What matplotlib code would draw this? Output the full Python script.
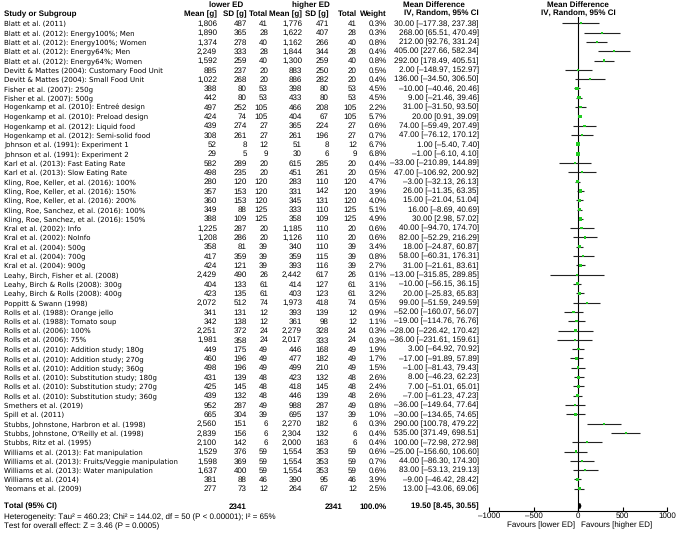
import matplotlib
matplotlib.use("Agg")
import matplotlib.pyplot as plt
import numpy as np

plt.rcParams['font.family'] = ['Liberation Sans', 'DejaVu Sans']
plt.rcParams['text.hinting'] = 'no_hinting'
plt.rcParams['text.hinting_factor'] = 1

studies = [
    "Blatt et al. (2011)",
    "Blatt et al. (2012): Energy100%; Men",
    "Blatt et al. (2012): Energy100%; Women",
    "Blatt et al. (2012): Energy64%; Men",
    "Blatt et al. (2012): Energy64%; Women",
    "Devitt & Mattes (2004): Customary Food Unit",
    "Devitt & Mattes (2004): Small Food Unit",
    "Fisher et al. (2007): 250g",
    "Fisher et al. (2007): 500g",
    "Hogenkamp et al. (2010): Entreé design",
    "Hogenkamp et al. (2010): Preload design",
    "Hogenkamp et al. (2012): Liquid food",
    "Hogenkamp et al. (2012): Semi-solid food",
    "Johnson et al. (1991): Experiment 1",
    "Johnson et al. (1991): Experiment 2",
    "Karl et al. (2013): Fast Eating Rate",
    "Karl et al. (2013): Slow Eating Rate",
    "Kling, Roe, Keller, et al. (2016): 100%",
    "Kling, Roe, Keller, et al. (2016): 150%",
    "Kling, Roe, Keller, et al. (2016): 200%",
    "Kling, Roe, Sanchez, et al. (2016): 100%",
    "Kling, Roe, Sanchez, et al. (2016): 150%",
    "Kral et al. (2002): Info",
    "Kral et al. (2002): NoInfo",
    "Kral et al. (2004): 500g",
    "Kral et al. (2004): 700g",
    "Kral et al. (2004): 900g",
    "Leahy, Birch, Fisher et al. (2008)",
    "Leahy, Birch & Rolls (2008): 300g",
    "Leahy, Birch & Rolls (2008): 400g",
    "Poppitt & Swann (1998)",
    "Rolls et al. (1988): Orange jello",
    "Rolls et al. (1988): Tomato soup",
    "Rolls et al. (2006): 100%",
    "Rolls et al. (2006): 75%",
    "Rolls et al. (2010): Addition study; 180g",
    "Rolls et al. (2010): Addition study; 270g",
    "Rolls et al. (2010): Addition study; 360g",
    "Rolls et al. (2010): Substitution study; 180g",
    "Rolls et al. (2010): Substitution study; 270g",
    "Rolls et al. (2010): Substitution study; 360g",
    "Smethers et al. (2019)",
    "Spill et al. (2011)",
    "Stubbs, Johnstone, Harbron et al. (1998)",
    "Stubbs, Johnstone, O'Reilly et al. (1998)",
    "Stubbs, Ritz et al. (1995)",
    "Williams et al. (2013): Fat manipulation",
    "Williams et al. (2013): Fruits/Veggie manipulation",
    "Williams et al. (2013): Water manipulation",
    "Williams et al. (2014)",
    "Yeomans et al. (2009)",
]

mean_lower = [1806, 1890, 1374, 2249, 1592, 885, 1022, 388, 442, 497, 424, 439, 308, 52, 29,
              582, 498, 280, 357, 360, 349, 388, 1225, 1208, 358, 417, 424, 2429, 404, 423,
              2072, 341, 342, 2251, 1981, 449, 460, 498, 431, 425, 439, 952, 665, 2560, 2839,
              2100, 1529, 1598, 1637, 381, 277]
sd_lower = [487, 365, 278, 333, 259, 237, 268, 80, 80, 252, 74, 274, 261, 8, 5,
            289, 235, 120, 153, 153, 88, 109, 287, 286, 81, 359, 121, 490, 133, 135,
            512, 131, 138, 372, 358, 175, 196, 196, 139, 145, 132, 287, 304, 151, 156,
            142, 376, 369, 400, 88, 73]
n_lower = [41, 28, 40, 28, 40, 20, 20, 53, 53, 105, 105, 27, 27, 12, 9,
           20, 20, 120, 120, 120, 125, 125, 20, 20, 39, 39, 39, 26, 61, 61,
           74, 12, 12, 24, 24, 49, 49, 49, 48, 48, 48, 49, 39, 6, 6,
           6, 59, 59, 59, 46, 12]
mean_higher = [1776, 1622, 1162, 1844, 1300, 883, 886, 398, 433, 466, 404, 365, 261, 51, 30,
               615, 451, 283, 331, 345, 333, 358, 1185, 1126, 340, 359, 393, 2442, 414, 403,
               1973, 393, 361, 2279, 2017, 446, 477, 499, 423, 418, 446, 988, 695, 2270, 2304,
               2000, 1554, 1554, 1554, 390, 264]
sd_higher = [471, 407, 266, 344, 259, 250, 282, 80, 80, 208, 67, 224, 196, 8, 6,
             285, 261, 110, 142, 131, 110, 109, 110, 110, 110, 115, 116, 617, 127, 123,
             418, 139, 98, 328, 333, 168, 182, 210, 132, 145, 139, 287, 137, 182, 132,
             163, 353, 353, 353, 95, 67]
n_higher = [41, 28, 40, 28, 40, 20, 20, 53, 53, 105, 105, 27, 27, 12, 9,
            20, 20, 120, 120, 120, 125, 125, 20, 20, 39, 39, 39, 26, 61, 61,
            74, 12, 12, 24, 24, 49, 49, 49, 48, 48, 48, 49, 39, 6, 6,
            6, 59, 59, 59, 46, 12]
weight = [0.3, 0.3, 0.8, 0.4, 0.8, 0.5, 0.4, 4.5, 4.5, 2.2, 5.7, 0.6, 0.7, 6.7, 6.8,
          0.4, 0.5, 4.7, 3.9, 4.0, 5.1, 4.9, 0.6, 0.6, 3.4, 0.8, 2.7, 0.1, 3.1, 3.2,
          0.5, 0.9, 1.1, 0.3, 0.3, 1.9, 1.7, 1.5, 2.6, 2.4, 2.6, 0.8, 1.0, 0.3, 0.4,
          0.4, 0.6, 0.7, 0.6, 3.9, 2.5]
md = [30, 268, 212, 405, 292, 2, 136, -10, 9, 31, 20, 74, 47, 1, -1,
      -33, 47, -3, 26, 15, 16, 30, 40, 82, 18, 58, 31, -13, -10, 20,
      99, -52, -19, -28, -36, 3, -17, -1, 8, 7, -7, -36, -30, 290, 535,
      100, -25, 44, 83, -9, 13]
ci_lo = [-177.38, 65.51, 92.76, 227.66, 178.49, -148.97, -34.50, -40.46, -21.46, -31.50,
         0.91, -59.49, -76.12, -5.40, -6.10, -210.89, -106.92, -32.13, -11.35, -21.04,
         -8.69, 2.98, -94.70, -52.29, -24.87, -60.31, -21.61, -315.85, -56.15, -25.83,
         -51.59, -160.07, -114.76, -226.42, -231.61, -64.92, -91.89, -81.43, -46.23, -51.01,
         -61.23, -149.64, -134.65, 100.78, 371.49, -72.98, -156.60, -86.30, -53.13, -46.42,
         -43.06]
ci_hi = [237.38, 470.49, 331.24, 582.34, 405.51, 152.97, 306.50, 20.46, 39.46, 93.50,
         39.09, 207.49, 170.12, 7.40, 4.10, 144.89, 200.92, 26.13, 63.35, 51.04,
         40.69, 57.02, 174.70, 216.29, 60.87, 176.31, 83.61, 289.85, 36.15, 65.83,
         249.59, 56.07, 76.76, 170.42, 159.61, 70.92, 57.89, 79.43, 62.23, 65.01,
         47.23, 77.64, 74.65, 479.22, 698.51, 272.98, 106.60, 174.30, 219.13, 28.42,
         69.06]

total_n_lower = 2341
total_n_higher = 2341
total_weight = 100.0
total_md, total_lo, total_hi = 19.50, 8.45, 30.55
axis_ticks = [-1000, -500, 0, 500, 1000]

W, H = 677, 533
fig = plt.figure(figsize=(W / 100, H / 100), dpi=100)
tax = fig.add_axes([0, 0, 1, 1])
tax.set_xlim(0, W)
tax.set_ylim(H, 0)
tax.axis('off')

FS = 5.5          # numbers / headers (Liberation Sans)
FS_NAME = 5.0     # study names (DejaVu Sans, wider letters)
NAME_FONT = ['DejaVu Sans']
DASH = '\u2013'
BL = 2.6          # baseline offset below row centre, px
row0, dy = 23.3, 9.31
ys = [row0 + dy * i for i in range(len(studies))]
y_total = 506
y_het = 516.5
y_test = 525.5

def fmt_num(v):
    return f"{v:,}"

def fmt_f(v):
    return f"{v:.2f}".replace('-', DASH)

def put(x, y, s, ha='right', bold=False, fs=FS, family=None):
    kw = dict(ha=ha, va='baseline', fontsize=fs)
    if bold:
        kw['fontweight'] = 'bold'
    if family:
        kw['family'] = family
    tax.text(x, y + BL, s, **kw)

# headers
hy1, hy2 = 4.5, 13.5
put(226, hy1, "lower ED", ha='center', bold=True)
put(311, hy1, "higher ED", ha='center', bold=True)
put(434, hy1, "Mean Difference", ha='center', bold=True)
put(578, hy1, "Mean Difference", ha='center', bold=True)
put(4, hy2, "Study or Subgroup", ha='left', bold=True)
cols = [(217, "Mean [g]"), (247, "SD [g]"), (268, "Total"), (302, "Mean [g]"),
        (329, "SD [g]"), (357, "Total"), (387, "Weight"), (479, "IV, Random, 95% CI")]
for x, t in cols:
    put(x, hy2, t, bold=True)
put(578, hy2, "IV, Random, 95% CI", ha='center', bold=True)

for i, y in enumerate(ys):
    put(4, y, studies[i], ha='left', fs=FS_NAME, family=NAME_FONT)
    vals = [fmt_num(mean_lower[i]), fmt_num(sd_lower[i]), str(n_lower[i]),
            fmt_num(mean_higher[i]), fmt_num(sd_higher[i]), str(n_higher[i]),
            f"{weight[i]:.1f}%",
            f"{fmt_f(md[i])} [{fmt_f(ci_lo[i])}, {fmt_f(ci_hi[i])}]"]
    for (x, _), v in zip(cols, vals):
        put(x, y, v)

put(4, y_total, "Total (95% CI)", ha='left', bold=True)
put(247, y_total, str(total_n_lower), bold=True)
put(343, y_total, str(total_n_higher), bold=True)
put(387, y_total, f"{total_weight:.1f}%", bold=True)
put(479, y_total, f"{fmt_f(total_md)} [{fmt_f(total_lo)}, {fmt_f(total_hi)}]", bold=True)
put(4, y_het, "Heterogeneity: Tau\u00b2 = 460.23; Chi\u00b2 = 144.02, df = 50 (P < 0.00001); I\u00b2 = 65%",
    ha='left', fs=5.8)
put(4, y_test, "Test for overall effect: Z = 3.46 (P = 0.0005)", ha='left', fs=5.8)

# forest axes
x0, x1 = 489, 667
ytop, ybot = 17, 511
fax = fig.add_axes([x0 / W, 1 - ybot / H, (x1 - x0) / W, (ybot - ytop) / H])
fax.set_xlim(-1000, 1000)
fax.set_ylim(ybot, ytop)
fax.patch.set_alpha(0)
for s in ['top', 'left', 'right']:
    fax.spines[s].set_visible(False)
fax.spines['bottom'].set_linewidth(0.8)
fax.set_yticks([])
fax.set_xticks(axis_ticks)
fax.set_xticklabels([str(t).replace('-', DASH) for t in axis_ticks], fontsize=FS)
fax.tick_params(axis='x', direction='in', length=3, width=0.8, pad=1)
fax.axvline(0, color='black', lw=0.8)

fax.hlines(ys, ci_lo, ci_hi, color='#222222', lw=0.8)
sizes = [2.0 + 0.9 * w for w in weight]
fax.scatter(md, ys, s=sizes, marker='s', color='#22cc22', linewidths=0, zorder=3)
fax.fill([total_lo, total_md, total_hi, total_md],
         [y_total, y_total - 2.5, y_total, y_total + 2.5], color='black', zorder=3)

put(575, 524.5, "Favours [lower ED]", ha='right')
put(581, 524.5, "Favours [higher ED]", ha='left')

fig.savefig("out.png", dpi=100)
